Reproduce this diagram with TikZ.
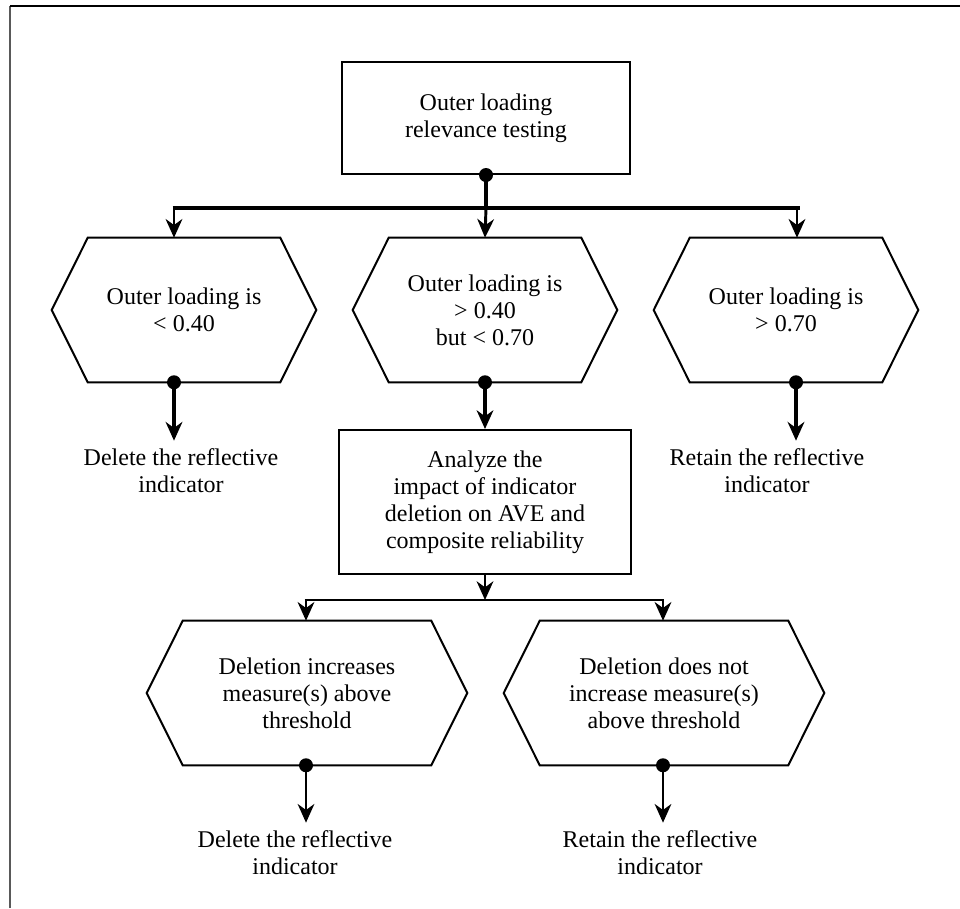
\documentclass[tikz,border=0pt]{standalone}
\usepackage{fontspec}
\setmainfont{Liberation Serif}
\usetikzlibrary{arrows.meta,calc}

% Outline of a six-sided decision box drawn around a named core node
\newcommand\hexoutline[1]{%
  \draw[boxline] (#1.north west) -- (#1.north east) -- ([xshift=27pt]#1.east)
    -- (#1.south east) -- (#1.south west) -- ([xshift=-27pt]#1.west) -- cycle;}

\tikzset{
  boxline/.style={line width=1.5pt, line join=miter},
  txt/.style={align=center, inner sep=0pt, font=\fontsize{18}{20.25}\selectfont},
  rectbox/.style={txt, draw, line width=1.5pt},
  hexcore/.style={txt, minimum height=108pt},
  dotmark/.style={fill=black},
  tip/.tip={Stealth[length=14pt,width=12.5pt,inset=4.5pt]},
  flowthick/.style={line width=2.6pt, -tip},
  flowmid/.style={line width=2.2pt, -tip},
  flowthin/.style={line width=1.8pt, -tip},
}

\begin{document}
\begin{tikzpicture}[x=0.75pt, y=-0.75pt]
\useasboundingbox (0,0) rectangle (960,908);

% page frame
\draw[line width=1.5pt, black!65] (10,908) -- (10,6);
\draw[line width=1.5pt] (10,6) -- (960,6);

% top box
\node[rectbox, minimum width=216pt, minimum height=84pt] (top) at (486,118)
  {Outer loading\\relevance testing};

% first row of decision boxes
\node[hexcore, minimum width=144pt] (h1) at (184,310) {Outer loading is\\< 0.40};
\node[hexcore, minimum width=144pt] (h2) at (485,310) {Outer loading is\\> 0.40\\but < 0.70};
\node[hexcore, minimum width=144pt] (h3) at (786,310) {Outer loading is\\> 0.70};
\hexoutline{h1}
\hexoutline{h2}
\hexoutline{h3}

% analysis box
\node[rectbox, minimum width=219pt, minimum height=108pt] (ana) at (485,502)
  {Analyze the\\impact of indicator\\deletion on AVE and\\composite reliability};

% second row of decision boxes
\node[hexcore, minimum width=186pt] (g1) at (307,693) {Deletion increases\\measure(s) above\\threshold};
\node[hexcore, minimum width=186pt] (g2) at (664,693) {Deletion does not\\increase measure(s)\\above threshold};
\hexoutline{g1}
\hexoutline{g2}

% outcomes
\node[txt] (o1) at (181,471) {Delete the reflective\\indicator};
\node[txt] (o2) at (767,471) {Retain the reflective\\indicator};
\node[txt] (o3) at (295,853) {Delete the reflective\\indicator};
\node[txt] (o4) at (660,853) {Retain the reflective\\indicator};

% branch points
\coordinate (bl) at (174,208);
\coordinate (bm) at (top.south |- bl);
\coordinate (br) at (797,208);
\coordinate (cl) at (306,600);
\coordinate (cr) at (663,600);

% fan-out from the top box
\draw[line width=2.3pt] (top.south) -- (bm);
\draw[line width=3pt] ([xshift=-1pt]bl) -- ([xshift=2pt]br);
\draw[flowmid] (bl) -- (bl |- h1.north);
\draw[flowmid] (bm) -- (h2.north);
\draw[flowmid] (br) -- (br |- h3.north);
\fill[dotmark] (top.south) circle (5.25pt);

% first-row exits
\coordinate (e1) at (h1.south -| bl);
\coordinate (e3) at (h3.south -| 796,0);
\draw[flowthick] (e1) -- ([yshift=6pt]e1 |- o1.north);
\draw[flowthick] (h2.south) -- (ana.north);
\draw[flowthick] (e3) -- ([yshift=6pt]e3 |- o2.north);
\fill[dotmark] (e1) circle (5.25pt);
\fill[dotmark] (h2.south) circle (5.25pt);
\fill[dotmark] (e3) circle (5.25pt);

% fan-out from the analysis box
\draw[flowmid] (ana.south) -- (ana.south |- cl);
\draw[line width=2pt] ([xshift=-1pt]cl) -- ([xshift=1pt]cr);
\draw[flowmid] (cl) -- (cl |- g1.north);
\draw[flowmid] (cr) -- (cr |- g2.north);

% second-row exits
\coordinate (f1) at (g1.south -| cl);
\coordinate (f2) at (g2.south -| cr);
\draw[flowthin] (f1) -- ([yshift=6pt]f1 |- o3.north);
\draw[flowthin] (f2) -- ([yshift=6pt]f2 |- o4.north);
\fill[dotmark] (f1) circle (5.25pt);
\fill[dotmark] (f2) circle (5.25pt);
\end{tikzpicture}
\end{document}
